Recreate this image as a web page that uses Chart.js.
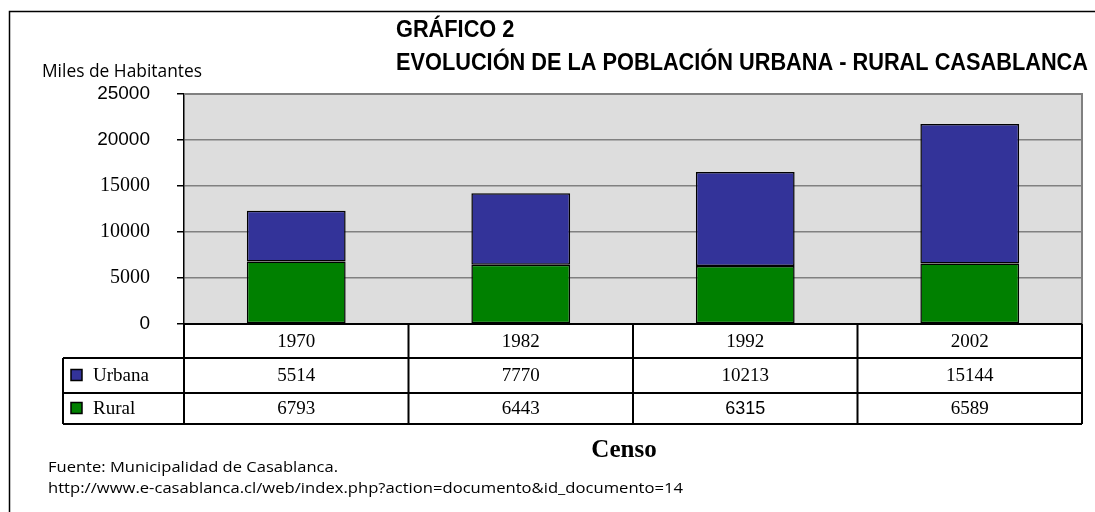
<!DOCTYPE html>
<html>
<head>
<meta charset="utf-8">
<script src="https://cdn.jsdelivr.net/npm/chart.js@4.4.1/dist/chart.umd.min.js"></script>
<style>
  html, body { margin: 0; padding: 0; background: #fff; }
  #wrap { width: 1095px; height: 512px; position: relative; }
</style>
</head>
<body>
<div id="wrap"><canvas id="grafico"></canvas></div>
<script>
// datos del gráfico
const censos = ["1970", "1982", "1992", "2002"]
const urbana = [5514, 7770, 10213, 15144]
const rural = [6793, 6443, 6315, 6589]
const yTicks = [0, 5000, 10000, 15000, 20000, 25000]

const AZUL = "#333399"
const VERDE = "#008000"
const SERIF = "'Liberation Serif', 'Times New Roman', serif"
const SANS = "'Liberation Sans', Arial, sans-serif"
const HUMANIST = "'Open Sans', 'Liberation Sans', sans-serif"

// en el original algunas etiquetas salen con otra letra
const celdasSans = [[2, 2]]          // (fila, columna) de la tabla
const ticksSerif = [5000, 10000, 15000]

// escribe un texto estirado/encogido al ancho pedido
function texto(ctx, str, x, y, ancho) {
  const w = ctx.measureText(str).width
  const sx = ancho / w
  ctx.save()
  ctx.translate(x, y)
  ctx.scale(sx, 1)
  ctx.fillText(str, 0, 0)
  ctx.restore()
  return sx
}

// fondo gris del área y marco exterior
const fondo = {
  id: "fondo",
  beforeDraw(chart) {
    const ctx = chart.ctx
    const a = chart.chartArea
    ctx.save()
    ctx.fillStyle = "#fff"
    ctx.fillRect(0, 0, chart.width, chart.height)
    ctx.fillStyle = "#dddddd"
    ctx.fillRect(a.left, a.top, a.right - a.left, a.bottom - a.top)
    // marco
    ctx.strokeStyle = "#000"
    ctx.lineWidth = 1.5
    ctx.beginPath()
    ctx.moveTo(9.5, chart.height)
    ctx.lineTo(9.5, 11.5)
    ctx.lineTo(chart.width, 11.5)
    ctx.stroke()
    ctx.restore()
  },
  afterDatasetsDraw(chart) {
    const ctx = chart.ctx
    const a = chart.chartArea
    ctx.save()
    ctx.strokeStyle = "#808080"
    ctx.lineWidth = 2
    ctx.beginPath()
    ctx.moveTo(a.left, a.top)
    ctx.lineTo(a.right, a.top)
    ctx.lineTo(a.right, a.bottom)
    ctx.stroke()
    ctx.restore()
  }
}

// tabla de datos bajo el gráfico + textos
const tabla = {
  id: "tabla",
  afterDraw(chart) {
    const ctx = chart.ctx
    const x = chart.scales.x
    const a = chart.chartArea
    const paso = (a.right - a.left) / censos.length
    const filas = [a.bottom, 358, 393, 424]
    const leyIzq = 63

    ctx.save()
    ctx.strokeStyle = "#000"
    ctx.lineWidth = 2
    // líneas horizontales
    ctx.beginPath()
    ctx.moveTo(a.left, filas[0]); ctx.lineTo(a.right, filas[0])
    for (let i = 1; i < filas.length; i++) {
      ctx.moveTo(leyIzq, filas[i]); ctx.lineTo(a.right, filas[i])
    }
    // verticales
    ctx.moveTo(leyIzq, filas[1]); ctx.lineTo(leyIzq, filas[3])
    for (let i = 0; i <= censos.length; i++) {
      const px = a.left + i * paso
      ctx.moveTo(px, filas[0]); ctx.lineTo(px, filas[3])
    }
    ctx.stroke()

    ctx.fillStyle = "#000"
    ctx.textAlign = "center"
    ctx.textBaseline = "middle"
    const series = [censos, urbana, rural]
    for (let f = 0; f < 3; f++) {
      const cy = (filas[f] + filas[f + 1]) / 2 + 1
      series[f].forEach((v, c) => {
        const sans = celdasSans.some(s => s[0] === f && s[1] === c)
        ctx.font = sans ? "18px " + SANS : "19px " + SERIF
        ctx.fillText(String(v), x.getPixelForValue(c), cy)
      })
    }

    // leyenda dentro de la tabla
    const ley = [["Urbana", AZUL], ["Rural", VERDE]]
    ley.forEach((l, i) => {
      const cy = (filas[i + 1] + filas[i + 2]) / 2
      ctx.fillStyle = l[1]
      ctx.fillRect(71, cy - 6, 11, 11)
      ctx.lineWidth = 1.5
      ctx.strokeRect(71, cy - 6, 11, 11)
      ctx.fillStyle = "#000"
      ctx.textAlign = "left"
      ctx.font = "19px " + SERIF
      ctx.fillText(l[0], 93, cy + 1)
    })

    // títulos (letra condensada)
    ctx.textAlign = "left"
    ctx.textBaseline = "alphabetic"
    ctx.font = "bold 24px " + SANS
    const t2 = "EVOLUCIÓN DE LA POBLACIÓN URBANA - RURAL CASABLANCA"
    const sx = 692 / ctx.measureText(t2).width
    texto(ctx, "GRÁFICO 2", 396, 37, ctx.measureText("GRÁFICO 2").width * sx)
    texto(ctx, t2, 396, 70, 692)

    ctx.font = "18px " + HUMANIST
    texto(ctx, "Miles de Habitantes", 42, 77, 160)

    ctx.textAlign = "center"
    ctx.font = "bold 25px " + SERIF
    ctx.fillText("Censo", 624, 457)

    ctx.textAlign = "left"
    ctx.font = "15px " + HUMANIST
    texto(ctx, "Fuente: Municipalidad de Casablanca.", 48, 472, 290)
    texto(ctx, "http://www.e-casablanca.cl/web/index.php?action=documento&id_documento=14", 48, 493, 635)
    ctx.restore()
  }
}

const grafico = new Chart("grafico", {
  type: "bar",
  data: {
    labels: censos,
    datasets: [{
        label: "Rural",
        data: rural,
        backgroundColor: VERDE,
        borderColor: "#000",
        borderWidth: 1.5,
        borderSkipped: false
      },{
        label: "Urbana",
        data: urbana,
        backgroundColor: AZUL,
        borderColor: "#000",
        borderWidth: 1.5,
        borderSkipped: false
      }
    ]
  },
  options: {
    responsive: true,
    maintainAspectRatio: false,
    animation: false,
    layout: { padding: { left: 0, top: 94, right: 13, bottom: 188 } },
    datasets: { bar: { categoryPercentage: 1, barPercentage: 0.44 } },
    plugins: {
      legend: { display: false },
      tooltip: { enabled: false }
    },
    scales: {
      x: {
        stacked: true,
        display: false
      },
      y: {
        stacked: true,
        min: 0,
        max: 25000,
        afterFit(scale) { scale.width = 184 },
        afterBuildTicks(scale) { scale.ticks = yTicks.map(v => ({ value: v })) },
        border: { display: true, color: "#000", width: 1.5 },
        grid: {
          color: "#808080",
          lineWidth: 1.5,
          tickColor: "#000",
          tickLength: 7,
          drawTicks: true
        },
        ticks: {
          color: "#000",
          padding: 27,
          font: c => ticksSerif.includes(c.tick && c.tick.value)
            ? { family: SERIF, size: 20 }
            : { family: SANS, size: 19 },
          callback: v => String(v)
        }
      }
    }
  },
  plugins: [fondo, tabla]
})
</script>
</body>
</html>
